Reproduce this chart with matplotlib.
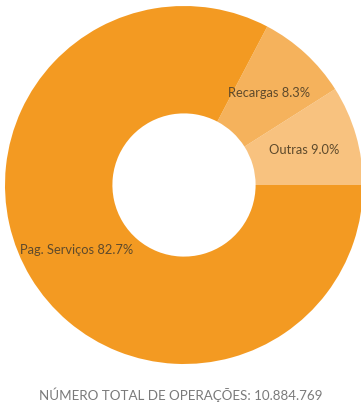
import matplotlib
matplotlib.use('Agg')
import matplotlib.pyplot as plt

# operation shares (%), drawn counterclockwise from 3 o'clock
categories = ['Outras', 'Recargas', 'Pag. Serviços']
shares = [9.0, 8.3, 82.7]
colors = ['#F8C27F', '#F5B25C', '#F39A22']
total_ops = '10.884.769'

plt.rcParams['font.family'] = ['Lato', 'DejaVu Sans']

fig = plt.figure(figsize=(3.61, 4.05), dpi=100)
ax = fig.add_axes([5 / 361, 41 / 405, 358 / 361, 358 / 405])

labels = [f'{c} {v:.1f}%' for c, v in zip(categories, shares)]
wedges, texts = ax.pie(shares, colors=colors, labels=labels, startangle=0,
                       counterclock=True, labeldistance=0.70,
                       wedgeprops=dict(width=0.60, linewidth=0),
                       textprops=dict(fontsize=9.3, color='#5e4a2c'))
for t in texts:
    t.set_ha('center')
    t.set_va('center')

ax.set_xlim(-1, 1)
ax.set_ylim(-1, 1)
ax.set_aspect('equal')

fig.text(0.5, (405 - 395) / 405, f'NÚMERO TOTAL DE OPERAÇÕES: {total_ops}',
         ha='center', va='center', fontsize=9.6, color='#7a7a7a')

fig.savefig('out.png', dpi=100)
